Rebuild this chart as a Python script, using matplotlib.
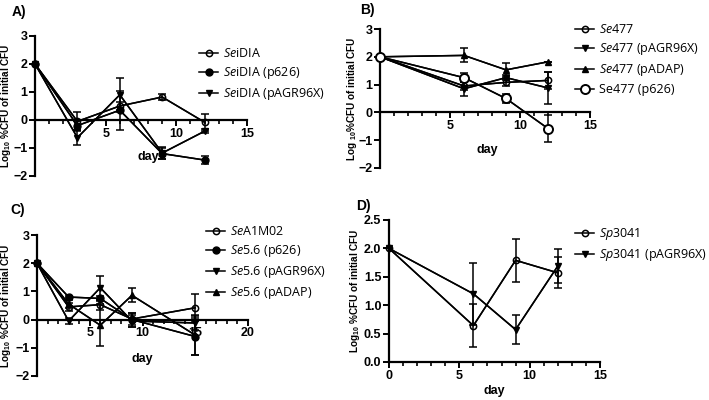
import numpy as np
import matplotlib
matplotlib.use("Agg")
import matplotlib.pyplot as plt

plt.rcParams['font.family'] = ['Liberation Sans', 'DejaVu Sans']
plt.rcParams['mathtext.fontset'] = 'custom'
plt.rcParams['mathtext.rm'] = 'Open Sans'
plt.rcParams['mathtext.it'] = 'Open Sans:italic'
plt.rcParams['mathtext.bf'] = 'Liberation Sans:bold'

# Panel A
days_a = [0, 3, 6, 9, 12]
seidia = [2.0, -0.05, 0.5, 0.82, -0.08]
seidia_err = [0, 0.35, 0.15, 0.12, 0.3]
seidia_p626 = [2.0, -0.2, 0.35, -1.2, -1.43]
seidia_p626_err = [0, 0.15, 0.7, 0.2, 0.15]
seidia_pagr = [2.0, -0.63, 0.9, -1.18, -0.4]
seidia_pagr_err = [0, 0.28, 0.6, 0.2, 0.08]
labels_a = [r'$\mathit{Se}$iDIA', r'$\mathit{Se}$iDIA (p626)', r'$\mathit{Se}$iDIA (pAGR96X)']

# Panel B
days_b = [0, 6, 9, 12]
se477 = [2.0, 0.95, 1.08, 1.15]
se477_err = [0, 0.15, 0.12, 0.3]
se477_pagr = [2.0, 0.85, 1.25, 0.88]
se477_pagr_err = [0, 0.25, 0.1, 0.58]
se477_padap = [2.0, 2.05, 1.53, 1.82]
se477_padap_err = [0, 0.25, 0.25, 0]
se477_p626 = [2.0, 1.25, 0.5, -0.58]
se477_p626_err = [0, 0.15, 0.15, 0.5]
labels_b = [r'$\mathit{Se477}$', r'$\mathit{Se477}$ (pAGR96X)', r'$\mathit{Se477}$ (pADAP)', 'Se477 (p626)']

# Panel C
days_c = [0, 3, 6, 9, 15]
sea1m02 = [2.0, 0.45, 0.53, 0.02, 0.42]
sea1m02_err = [0, 0.15, 0.2, 0.2, 0.48]
se56_p626 = [2.0, 0.8, 0.75, 0.0, -0.6]
se56_p626_err = [0, 0.05, 0.1, 0.25, 0.65]
se56_pagr = [2.0, -0.05, 1.13, -0.05, -0.12]
se56_pagr_err = [0, 0.1, 0.42, 0.2, 0.25]
se56_padap = [2.0, 0.55, -0.2, 0.86, -0.55]
se56_padap_err = [0, 0.15, 0.75, 0.25, 0.7]
labels_c = [r'$\mathit{Se}$A1M02', r'$\mathit{Se}$5.6 (p626)', r'$\mathit{Se}$5.6 (pAGR96X)', r'$\mathit{Se}$5.6 (pADAP)']

# Panel D
days_d = [0, 6, 9, 12]
sp3041 = [2.0, 0.64, 1.79, 1.57]
sp3041_err = [0, 0.38, 0.38, 0.27]
sp3041_pagr = [2.0, 1.2, 0.57, 1.69]
sp3041_pagr_err = [0, 0.55, 0.25, 0.3]
labels_d = [r'$\mathit{Sp}$3041', r'$\mathit{Sp}$3041 (pAGR96X)']

W, H = 709, 400
fig = plt.figure(figsize=(W / 100, H / 100), dpi=100)

# marker styles: open small circle, filled circle, down triangle, up triangle, big open circle
styles = {
    'open': dict(marker='o', ms=4.5, mfc='none', mec='black', mew=1.1),
    'fill': dict(marker='o', ms=5, mfc='black', mec='black'),
    'down': dict(marker='v', ms=5, mfc='black', mec='black'),
    'up': dict(marker='^', ms=5, mfc='black', mec='black'),
    'big': dict(marker='o', ms=6.5, mfc='white', mec='black', mew=1.4),
}


def px_axes(l, t, r, b):
    return fig.add_axes([l / W, 1 - b / H, (r - l) / W, (b - t) / H])


def style_axes(ax, xmax, ylim, yticks, zero_axis=True, xticks=(5, 10, 15)):
    ax.set_xlim(0, xmax)
    ax.set_ylim(*ylim)
    ax.spines['top'].set_visible(False)
    ax.spines['right'].set_visible(False)
    if zero_axis:
        ax.spines['bottom'].set_position(('data', 0))
    for s in ('left', 'bottom'):
        ax.spines[s].set_linewidth(1.6)
    ax.set_yticks(yticks)
    ax.set_xticks(list(xticks))
    ax.set_xticks(np.arange(0, xmax + 1, 1), minor=True)
    ax.tick_params(axis='both', which='major', width=1.4, length=4, labelsize=9, pad=1.5)
    ax.tick_params(axis='x', which='minor', width=1.2, length=3)
    for lab in ax.get_xticklabels() + ax.get_yticklabels():
        lab.set_fontweight('bold')


def draw(ax, x, ys, errs, keys, labels):
    handles = []
    for y, e, k, lab in zip(ys, errs, keys, labels):
        ax.errorbar(x, y, yerr=e, color='black', lw=1.1, elinewidth=1.1,
                    capsize=3, capthick=1.1, clip_on=False, zorder=3)
        h, = ax.plot(x, y, color='black', lw=1.1, clip_on=False, zorder=4, **styles[k])
        handles.append(h)
        h.set_label(lab)
    return handles


def ylab(ax, text, x):
    ax.set_ylabel(text, fontsize=7.2, fontweight='bold')
    ax.yaxis.set_label_coords(x, 0.5)


def leg(ax, handles, x, y):
    ax.legend(handles=handles, loc='upper left', bbox_to_anchor=(x / W, 1 - y / H),
              bbox_transform=fig.transFigure, frameon=False,
              handlelength=1.5, handletextpad=0.4, labelspacing=0.4, borderpad=0,
              prop={'family': 'Open Sans', 'size': 9})


ylab_text = r'Log$_{\mathbf{10}}$ %CFU of initial CFU'

# A
axA = px_axes(35, 36, 247, 176)
hA = draw(axA, days_a, [seidia, seidia_p626, seidia_pagr],
          [seidia_err, seidia_p626_err, seidia_pagr_err], ['open', 'fill', 'down'], labels_a)
style_axes(axA, 15, (-2, 3), [-2, -1, 0, 1, 2, 3])
axA.set_xlabel('day', fontsize=9, fontweight='bold')
axA.xaxis.set_label_coords(0.535, 0.18)
ylab(axA, ylab_text, -0.105)
leg(axA, hA, 193, 41)

# B
axB = px_axes(380, 29, 590, 168)
hB = draw(axB, days_b, [se477, se477_pagr, se477_padap, se477_p626],
          [se477_err, se477_pagr_err, se477_padap_err, se477_p626_err],
          ['open', 'down', 'up', 'big'], labels_b)
style_axes(axB, 15, (-2, 3), [-2, -1, 0, 1, 2, 3])
axB.set_xlabel('day', fontsize=9, fontweight='bold')
axB.xaxis.set_label_coords(0.51, 0.17)
ylab(axB, r'Log $_{\mathbf{10}}$%CFU of initial CFU', -0.1)
leg(axB, hB, 569, 17)

# C
axC = px_axes(37, 235, 248, 376)
hC = draw(axC, days_c, [sea1m02, se56_p626, se56_pagr, se56_padap],
          [sea1m02_err, se56_p626_err, se56_pagr_err, se56_padap_err],
          ['open', 'fill', 'down', 'up'], labels_c)
style_axes(axC, 20, (-2, 3), [-2, -1, 0, 1, 2, 3], xticks=(5, 10, 15, 20))
axC.set_xlabel('day', fontsize=9, fontweight='bold')
axC.xaxis.set_label_coords(0.5, 0.16)
ylab(axC, ylab_text, -0.115)
leg(axC, hC, 200, 219)

# D
axD = px_axes(389, 220, 600, 362)
hD = draw(axD, days_d, [sp3041, sp3041_pagr], [sp3041_err, sp3041_pagr_err],
          ['open', 'down'], labels_d)
style_axes(axD, 15, (0, 2.5), [0, 0.5, 1.0, 1.5, 2.0, 2.5], zero_axis=False, xticks=(0, 5, 10, 15))
axD.set_yticklabels(['0.0', '0.5', '1.0', '1.5', '2.0', '2.5'], fontweight='bold')
axD.set_xlabel('day', fontsize=9, fontweight='bold')
axD.xaxis.set_label_coords(0.5, -0.16)
ylab(axD, ylab_text, -0.13)
leg(axD, hD, 569, 220)

for txt, x, y in [('A)', 12, 12), ('B)', 360, 10), ('C)', 10, 210), ('D)', 356, 206)]:
    fig.text(x / W, 1 - y / H, txt, fontsize=10, fontweight='bold', va='center')

fig.savefig('out.png', dpi=100)
